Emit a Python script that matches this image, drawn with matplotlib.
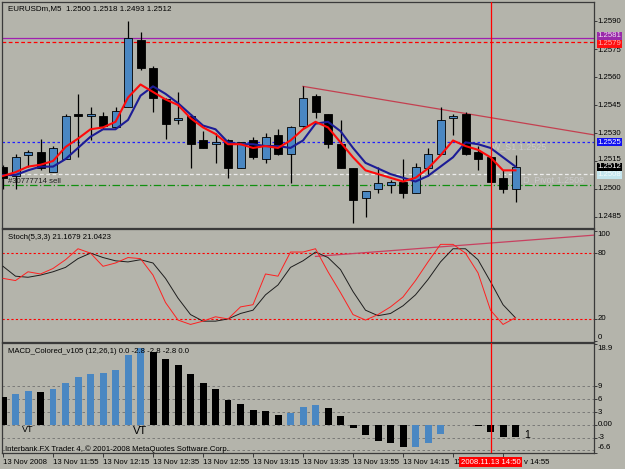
import matplotlib
matplotlib.use('Agg')
import matplotlib.pyplot as plt
import matplotlib.transforms as mtrans
import numpy as np

plt.rcParams['font.family'] = ['Liberation Sans', 'DejaVu Sans']

# --- data (bar 0 = 11:35) ---
opens = [1.2512, 1.2507, 1.2518, 1.2520, 1.2509, 1.2516, 1.2540, 1.2539, 1.2539, 1.2533,
         1.2544, 1.2580, 1.2565, 1.2548, 1.2537, 1.2539, 1.2526, 1.2524, 1.2526, 1.2511,
         1.2526, 1.2516, 1.2529, 1.2519, 1.2534, 1.2550, 1.2540, 1.2524, 1.2511, 1.2495,
         1.2500, 1.2502, 1.2504, 1.2498, 1.2511, 1.2519, 1.2538, 1.2540, 1.2520, 1.2517,
         1.2506, 1.2500]
highs = [1.2513, 1.2519, 1.2521, 1.2527, 1.2523, 1.2540, 1.2551, 1.2544, 1.2541, 1.2544,
         1.2590, 1.2584, 1.2566, 1.2549, 1.2552, 1.2540, 1.2531, 1.2530, 1.2527, 1.2525,
         1.2528, 1.2530, 1.2532, 1.2534, 1.2555, 1.2551, 1.2540, 1.2537, 1.2511, 1.2499,
         1.2512, 1.2505, 1.2516, 1.2514, 1.2522, 1.2544, 1.2540, 1.2541, 1.2523, 1.2517,
         1.2510, 1.2518]
lows = [1.2500, 1.2500, 1.2512, 1.2510, 1.2509, 1.2516, 1.2517, 1.2526, 1.2532, 1.2533,
        1.2544, 1.2564, 1.2541, 1.2527, 1.2535, 1.2511, 1.2522, 1.2514, 1.2506, 1.2511,
        1.2516, 1.2514, 1.2518, 1.2503, 1.2533, 1.2538, 1.2522, 1.2511, 1.2482, 1.2485,
        1.2498, 1.2498, 1.2495, 1.2498, 1.2507, 1.2519, 1.2529, 1.2518, 1.2510, 1.2504,
        1.2498, 1.2493]
closes = [1.2506, 1.2517, 1.2520, 1.2511, 1.2522, 1.2539, 1.2539, 1.2540, 1.2534, 1.2542,
          1.2581, 1.2565, 1.2549, 1.2535, 1.2538, 1.2524, 1.2522, 1.2525, 1.2511, 1.2525,
          1.2517, 1.2528, 1.2519, 1.2533, 1.2549, 1.2541, 1.2524, 1.2511, 1.2494, 1.2499,
          1.2503, 1.2504, 1.2498, 1.2512, 1.2519, 1.2537, 1.2539, 1.2519, 1.2516, 1.2504,
          1.2500, 1.2512]

ma_fast = [1.2507, 1.2509, 1.2512, 1.2513, 1.2515, 1.25225, 1.2527, 1.2532, 1.2533, 1.2536,
           1.2549, 1.2556, 1.2552, 1.2548, 1.2545, 1.2538, 1.2533, 1.25295, 1.2524, 1.2524,
           1.2522, 1.2523, 1.2522, 1.2526, 1.2532, 1.2536, 1.2533, 1.2525, 1.2517, 1.2510,
           1.2508, 1.2506, 1.2504, 1.2506, 1.2511, 1.2518, 1.2526, 1.2523, 1.2521, 1.2517,
           1.2510, 1.2510]
ma_slow = [1.25075, 1.25075, 1.2510, 1.2512, 1.2512, 1.2516, 1.2522, 1.2528, 1.2532, 1.2532,
           1.2537, 1.2550, 1.2555, 1.2551, 1.2546, 1.2540, 1.2534, 1.2532, 1.2525, 1.2524,
           1.2524, 1.2523, 1.2523, 1.2522, 1.2526, 1.2535, 1.2536, 1.2531, 1.2522, 1.2514,
           1.2511, 1.2508, 1.2506, 1.2504, 1.2507, 1.2512, 1.2517, 1.2525, 1.2524, 1.2522,
           1.2517, 1.2512]

stoch_main = [57, 55, 63, 61, 66, 74, 84, 80, 68, 71, 76, 75, 60, 35, 19, 15, 18, 22, 20, 31,
              33, 61, 59, 81, 81, 84, 63, 44, 24, 19, 24, 31, 40, 55, 72, 88, 88, 80, 62, 28,
              15, 21.17]
stoch_signal = [68, 59, 58, 60, 63, 67, 75, 80, 76, 73, 72, 74, 71, 57, 39, 24, 18, 18, 20, 25,
                28, 42, 51, 67, 73, 81, 76, 65, 45, 28, 23, 25, 32, 42, 56, 72, 84, 84, 74, 54,
                33, 21.04]

macd_hist = [6.5, 7.2, 7.9, 7.6, 8.3, 9.9, 11.1, 12.0, 12.2, 12.9, 16.4, 18.0, 17.1, 15.5,
             14.1, 12.0, 9.9, 8.3, 5.8, 4.8, 3.5, 3.2, 2.3, 2.8, 4.2, 4.6, 3.9, 2.1, -0.7,
             -2.5, -3.7, -4.3, -5.3, -5.1, -4.2, -2.1, 0.0, 0.0, -0.3, -1.6, -2.8, -2.8]

# time labels as visible: the red cursor-date box hides the start of the last two
time_ticks = [0, 4, 8, 12, 16, 20, 24, 28, 32, 36, 40]
time_labels = ['13 Nov 2008', '13 Nov 11:55', '13 Nov 12:15', '13 Nov 12:35', '13 Nov 12:55',
               '13 Nov 13:15', '13 Nov 13:35', '13 Nov 13:55', '13 Nov 14:15', '13', '']
price_ticks = [1.2590, 1.2575, 1.2560, 1.2545, 1.2530, 1.2515, 1.2500, 1.2485]

bg = '#b4b4ab'
bull = '#4a87c2'
fs = 5.6

fig = plt.figure(figsize=(6.25, 4.69), dpi=100, facecolor=bg)
W, H = 625.0, 469.0
ax1 = fig.add_axes([2 / W, 1 - 228 / H, 592 / W, 226 / H])
ax2 = fig.add_axes([2 / W, 1 - 342 / H, 592 / W, 113 / H])
ax3 = fig.add_axes([2 / W, 1 - 453 / H, 592 / W, 110 / H])

x = np.arange(len(opens))
for ax in (ax1, ax2, ax3):
    ax.set_facecolor(bg)
    ax.set_xlim(-0.08, 47.28)
    for s in ax.spines.values():
        s.set_color('#3a3a3a')
        s.set_linewidth(0.9)
    ax.tick_params(left=False, labelleft=False, bottom=False, labelbottom=False)
    ax.yaxis.set_ticks_position('right')
    ax.tick_params(axis='y', right=True, length=2.5, width=0.7, color='#3a3a3a',
                   labelright=False)
    ax.axvline(39, color='#ff0000', lw=0.9, zorder=6)


def right_label(ax, y, text, va='center', box=None, tc='black', z=5):
    tr = mtrans.blended_transform_factory(ax.transAxes, ax.transData)
    kw = {}
    if box is not None:
        kw['bbox'] = dict(boxstyle='square,pad=0.06', fc=box, ec='none')
    ax.text(1.006, y, text, transform=tr, fontsize=fs, va=va, ha='left', color=tc,
            clip_on=False, zorder=z, **kw)


# --- main price panel ---
ax1.set_ylim(1.24791, 1.26002)
ax1.set_yticks(price_ticks)
label_shift = {1.2575: -0.0001, 1.2515: 0.00008}   # nudged clear of the price boxes
for p in price_ticks:
    right_label(ax1, p + label_shift.get(p, 0.0), f'{p:.4f}')

ax1.axhline(1.2581, color='#a020b0', lw=0.9, zorder=1.5)
ax1.axhline(1.2579, color='#ff0000', lw=0.9, ls=(0, (3, 2)), zorder=1.5)
ax1.axhline(1.2525, color='#1e1eff', lw=0.9, ls=(0, (2, 2)), zorder=1.5)
ax1.axhline(1.2508, color='#ececec', lw=0.9, ls=(0, (3, 2)), zorder=1.5)
ax1.axhline(1.2502, color='#109010', lw=0.9, ls=(0, (6, 2, 1, 2)), zorder=1.5)
ax1.plot([24, 47.28], [1.2555, 1.2529], color='#c44050', lw=0.9, zorder=1.6)

o = np.array(opens)
c = np.array(closes)
body_col = [bull if cc > oo else 'black' for oo, cc in zip(o, c)]
ax1.vlines(x, lows, highs, color='black', lw=0.9, zorder=2)
ax1.bar(x, np.maximum(np.abs(c - o), 0.00008), bottom=np.minimum(o, c), width=0.64,
        color=body_col, edgecolor='black', lw=0.6, zorder=3)
ax1.plot(x, ma_slow, color='#1c1c96', lw=1.5, zorder=4)
ax1.plot(x, ma_fast, color='#ff0a0a', lw=1.5, zorder=4.5)

ax1.text(0.01, 0.973, 'EURUSDm,M5  1.2500 1.2518 1.2493 1.2512', transform=ax1.transAxes,
         fontsize=fs + 0.2, va='center', ha='left')
ax1.text(0.4, 1.2504, '#30777714 sell', fontsize=fs, va='center', ha='left', color='#202020')
ax1.text(39.1, 1.25225, 'W_S1 1.2525', fontsize=fs + 0.8, va='center', ha='left',
         color='#cbcbcb', zorder=2.5)
ax1.text(41.6, 1.2505, 'D_Pivot 1.2508', fontsize=fs + 0.8, va='center', ha='left',
         color='#cbcbcb', zorder=2.5)

# price boxes on the right scale
right_label(ax1, 1.25820, '1.2581', box='#9a2aaa', tc='#f0e0f0', z=8)
right_label(ax1, 1.25778, '1.2579', box='#ff1010', tc='#ffb0b0', z=7)
right_label(ax1, 1.2525, '1.2525', box='#1010f0', tc='white', z=7)
right_label(ax1, 1.2512, '1.2512', box='black', tc='white', z=7)
right_label(ax1, 1.25075, '1.2508', box='#c4e6ee', tc='#f4fbfd', z=6)

# --- stochastic panel ---
ax2.set_ylim(-1, 102)
ax2.set_yticks([100, 80, 20, 0])
right_label(ax2, 100, '100', va='top')
right_label(ax2, 80, '80')
right_label(ax2, 20, '20')
right_label(ax2, 0, '0', va='bottom')
ax2.axhline(80, color='#ff0000', lw=0.8, ls=(0, (2, 2)), zorder=1.5)
ax2.axhline(20, color='#ff0000', lw=0.8, ls=(0, (2, 2)), zorder=1.5)
ax2.plot([25, 47.28], [77, 96.4], color='#c84060', lw=0.9, zorder=1.6)
ax2.plot(x, stoch_signal, color='#1e1e1e', lw=0.7, zorder=3)
ax2.plot(x, stoch_main, color='#ff2020', lw=0.7, zorder=3.5)
ax2.text(0.01, 0.929, 'Stoch(5,3,3) 21.1679 21.0423', transform=ax2.transAxes,
         fontsize=fs, va='center', ha='left')

# --- MACD panel ---
ax3.set_ylim(-6.24, 19.17)
for lv in [9, 6, 3, 0, -3, -6]:
    ax3.axhline(lv, color='#707070', lw=0.6, ls=(0, (3, 3)), zorder=1)
ax3.set_yticks([18.9, 9, 6, 3, 0, -3, -6.6])
tr3 = mtrans.blended_transform_factory(ax3.transAxes, ax3.transAxes)
ax3.text(1.006, 0.985, '18.9', transform=tr3, fontsize=fs, va='top', clip_on=False)
for lv, lab in [(9, '9'), (6, '6'), (3, '3'), (0, '0.00'), (-3, '-3')]:
    right_label(ax3, lv, lab)
ax3.text(1.006, 0.015, '-6.6', transform=tr3, fontsize=fs, va='bottom', clip_on=False)

h = np.array(macd_hist)
prev = np.concatenate([[np.inf], h[:-1]])
macd_col = [bull if a > b else 'black' for a, b in zip(h, prev)]
ax3.bar(x, h, width=0.56, color=macd_col, zorder=3)
ax3.text(2.0, -1.2, 'VT', fontsize=6.5, ha='center', va='center')
ax3.text(11.0, -1.4, 'VT', fontsize=8, ha='center', va='center')
ax3.text(41.9, -2.5, '1', fontsize=7.5, ha='center', va='center')
ax3.text(0.005, 0.036, 'Interbank FX Trader 4, \u00a9 2001-2008 MetaQuotes Software Corp.',
         transform=ax3.transAxes, fontsize=fs, va='center', ha='left')
ax3.text(0.01, 0.927, 'MACD_Colored_v105 (12,26,1) 0.0 -2.8 -2.8 -2.8 0.0',
         transform=ax3.transAxes, fontsize=fs, va='center', ha='left')

# time axis under the MACD panel
ax3.set_xticks(time_ticks)
ax3.tick_params(axis='x', bottom=True, length=3, width=0.7, color='#3a3a3a', direction='out')
trx = mtrans.blended_transform_factory(ax3.transData, ax3.transAxes)
for t, lab in zip(time_ticks, time_labels):
    ax3.text(t, -0.082, lab, transform=trx, fontsize=fs, va='center', ha='left', clip_on=False)
ax3.text(41.65, -0.082, 'v 14:55', transform=trx, fontsize=fs, va='center', ha='left',
         clip_on=False)
ax3.text(39, -0.082, '2008.11.13 14:50', transform=trx, fontsize=fs, va='center', ha='center',
         color='white', clip_on=False, zorder=8,
         bbox=dict(boxstyle='square,pad=0.25', fc='#ff0000', ec='none'))

fig.savefig('out.png', dpi=100, facecolor=bg)
